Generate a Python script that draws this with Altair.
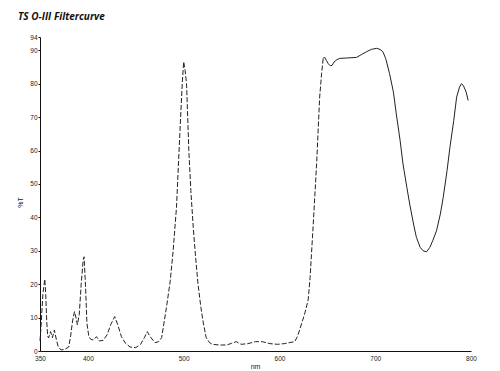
import altair as alt
import pandas as pd

# wavelength (nm) and transmission (%T)
nm = [350, 351, 352, 353, 355, 356, 357, 358, 359, 361, 363, 365, 367, 369, 372, 376, 380, 382,
      384, 386, 388, 389, 391, 393, 395, 396, 397.7, 399, 401, 403, 405.6, 409, 412, 416, 420,
      424, 428, 431, 435, 439, 444, 450, 455, 459, 462, 465, 470, 474, 477, 482, 486, 489,
      492.5, 496, 498.5, 500, 501.5, 503, 505.4, 507.5, 510, 512.5, 515, 518, 520.5, 523.5,
      527, 530, 537, 545, 550, 555, 560, 567, 575, 582, 590, 598, 605, 612, 616, 619, 621,
      624, 626.6, 630, 632, 635.3, 638.8, 642, 644, 645.7, 647, 649, 651, 653, 655, 657, 660,
      663, 670, 680.5, 686, 691, 696, 701.5, 705, 708, 711, 715, 719, 722, 726, 729, 733,
      736, 740, 743, 747, 750, 753.6, 757, 760, 764, 768, 771, 775, 778, 782, 785, 788, 790,
      792, 795, 797]
T = [3, 7, 12, 17, 21.5, 17, 9, 4.5, 3.9, 5.8, 4, 6.3, 3.5, 1.3, 0.3, 0.5, 1.2, 4.5,
     9, 11.8, 9.5, 7.8, 11, 20, 27, 28.2, 18.3, 8.3, 4.3, 3.5, 3.3, 4.3, 3, 3.2, 4.8,
     8, 10.3, 8, 4.3, 2.4, 1.2, 1, 2, 4, 5.8, 4.3, 2.5, 2.8, 4, 13, 21, 30,
     43, 65, 80, 86.6, 84, 80, 60, 48, 37, 28, 20, 13, 8.4, 4,
     2.5, 2, 1.8, 1.8, 2.3, 2.8, 2, 2.2, 2.8, 2.8, 2.2, 2, 2.2, 2.6, 2.8, 4.5, 6.3,
     9, 11.4, 15.3, 22, 38, 56, 76, 83, 87.6, 88, 87, 86, 85.4, 85.5, 86.5, 87.2,
     87.6, 87.7, 87.9, 88.8, 89.6, 90.3, 90.6, 90.3, 89.6, 87.5, 83, 77.5, 71, 63, 56, 49,
     44, 38, 34, 31, 30, 29.7, 31, 33, 36, 41, 46, 54, 61, 69, 76, 79, 80,
     79.5, 77.5, 75]

x_ticks = [350, 400, 500, 600, 700, 800]
y_ticks = [0, 10, 20, 30, 40, 50, 60, 70, 80, 90, 94]
chart_title = "TS O-III Filtercurve"
x_title = "nm"
y_title = "%T"
split_nm = 645.7

df = pd.DataFrame({"nm": nm, "T": T})

x = alt.X("nm:Q",
          scale=alt.Scale(domain=[350, 800], nice=False, zero=False),
          axis=alt.Axis(values=x_ticks, title=x_title, tickSize=0, labelPadding=4,
                        labelFlush=False, titleX=215, titleY=15, titleBaseline="middle"))
y = alt.Y("T:Q",
          scale=alt.Scale(domain=[0, 94], nice=False),
          axis=alt.Axis(values=y_ticks, title=y_title, tickSize=2, labelPadding=1,
                        labelFlush=False, titleX=-20, titleY=165, titleBaseline="middle"))

base = alt.Chart(df)
dashed = base.transform_filter(alt.datum.nm <= split_nm).mark_line(
    color="#222222", strokeWidth=1, strokeDash=[5, 2]).encode(x=x, y=y)
solid = base.transform_filter(alt.datum.nm >= split_nm).mark_line(
    color="#222222", strokeWidth=1).encode(x=x, y=y)

title_text = alt.Chart(pd.DataFrame({"t": [chart_title]})).mark_text(
    align="left", baseline="alphabetic", font="Open Sans", fontSize=10,
    fontWeight="bold", fontStyle="italic", color="#111111"
).encode(text="t:N", x=alt.value(-22), y=alt.value(-17))

chart = alt.layer(dashed, solid, title_text).properties(
    width=431, height=314,
    autosize="none",
    padding={"left": 40, "top": 37, "right": 29, "bottom": 20},
).configure_view(stroke=None).configure_axis(
    grid=False, domainColor="#111111", domainWidth=1, tickColor="#111111",
    labelFont="Liberation Sans", labelFontSize=6.5, labelColor="#222222",
    titleFont="Liberation Sans", titleFontSize=7, titleFontWeight="normal", titleColor="#222222",
)

chart.save("out.html", embed_options={"renderer": "svg", "actions": False})
